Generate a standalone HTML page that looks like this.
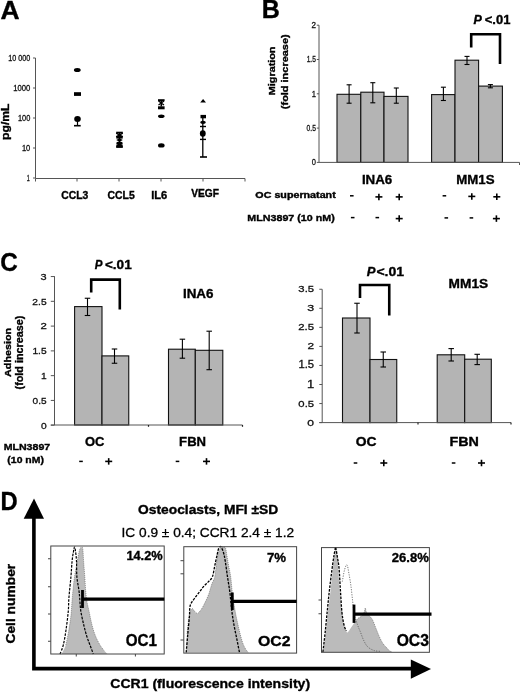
<!DOCTYPE html>
<html><head><meta charset="utf-8"><style>
html,body{margin:0;padding:0;background:#fff;}
svg{display:block;will-change:transform;}
text{font-family:"Liberation Sans",sans-serif;}
</style></head><body>
<svg width="520" height="692" viewBox="0 0 520 692">
<rect width="520" height="692" fill="#fff"/>
<text x="0.61" y="19.00" font-size="25.87" font-weight="bold" font-style="normal" textLength="19.08" lengthAdjust="spacingAndGlyphs" fill="#000" stroke="#000" stroke-width="0.35">A</text>
<line x1="35.5" y1="58" x2="35.5" y2="178.5" stroke="#555" stroke-width="1"/>
<line x1="33" y1="58" x2="35.5" y2="58" stroke="#555" stroke-width="1"/>
<line x1="33" y1="88" x2="35.5" y2="88" stroke="#555" stroke-width="1"/>
<line x1="33" y1="118" x2="35.5" y2="118" stroke="#555" stroke-width="1"/>
<line x1="33" y1="148" x2="35.5" y2="148" stroke="#555" stroke-width="1"/>
<line x1="33" y1="178" x2="35.5" y2="178" stroke="#555" stroke-width="1"/>
<line x1="35.5" y1="178.5" x2="245" y2="178.5" stroke="#555" stroke-width="1"/>
<line x1="35.5" y1="178.5" x2="35.5" y2="181.5" stroke="#555" stroke-width="1"/>
<line x1="77" y1="178.5" x2="77" y2="181.5" stroke="#555" stroke-width="1"/>
<line x1="119" y1="178.5" x2="119" y2="181.5" stroke="#555" stroke-width="1"/>
<line x1="161" y1="178.5" x2="161" y2="181.5" stroke="#555" stroke-width="1"/>
<line x1="203" y1="178.5" x2="203" y2="181.5" stroke="#555" stroke-width="1"/>
<line x1="245" y1="178.5" x2="245" y2="181.5" stroke="#555" stroke-width="1"/>
<text x="8.25" y="61.00" font-size="8.60" font-weight="normal" font-style="normal" textLength="22.03" lengthAdjust="spacingAndGlyphs" fill="#111" stroke="#111" stroke-width="0.3">10 000</text>
<text x="13.22" y="91.00" font-size="8.60" font-weight="normal" font-style="normal" textLength="17.08" lengthAdjust="spacingAndGlyphs" fill="#111" stroke="#111" stroke-width="0.3">1000</text>
<text x="17.94" y="121.00" font-size="8.60" font-weight="normal" font-style="normal" textLength="12.35" lengthAdjust="spacingAndGlyphs" fill="#111" stroke="#111" stroke-width="0.3">100</text>
<text x="21.93" y="151.00" font-size="8.60" font-weight="normal" font-style="normal" textLength="8.36" lengthAdjust="spacingAndGlyphs" fill="#111" stroke="#111" stroke-width="0.3">10</text>
<text x="26.70" y="181.00" font-size="8.72" font-weight="normal" font-style="normal" textLength="2.96" lengthAdjust="spacingAndGlyphs" fill="#111" stroke="#111" stroke-width="0.3">1</text>
<text transform="translate(9.20,139.10) rotate(-90)" x="-0.80" y="0" font-size="10.91" font-weight="bold" font-style="normal" textLength="36.28" lengthAdjust="spacingAndGlyphs" fill="#000" stroke="#000" stroke-width="0.35">pg/mL</text>
<text x="61.39" y="198.90" font-size="10.32" font-weight="bold" font-style="normal" textLength="26.98" lengthAdjust="spacingAndGlyphs" fill="#000" stroke="#000" stroke-width="0.35">CCL3</text>
<text x="107.58" y="198.90" font-size="10.32" font-weight="bold" font-style="normal" textLength="27.20" lengthAdjust="spacingAndGlyphs" fill="#000" stroke="#000" stroke-width="0.35">CCL5</text>
<text x="151.17" y="198.90" font-size="10.32" font-weight="bold" font-style="normal" textLength="16.04" lengthAdjust="spacingAndGlyphs" fill="#000" stroke="#000" stroke-width="0.35">IL6</text>
<text x="191.14" y="196.80" font-size="10.60" font-weight="bold" font-style="normal" textLength="27.73" lengthAdjust="spacingAndGlyphs" fill="#000" stroke="#000" stroke-width="0.35">VEGF</text>
<ellipse cx="77.3" cy="70" rx="3.4" ry="2.0" fill="#000"/>
<rect x="74.00" y="92.20" width="7.00" height="3.70" fill="#000" stroke="none" stroke-width="1"/>
<ellipse cx="77.5" cy="118.9" rx="3.3" ry="3.0" fill="#000"/>
<line x1="77.5" y1="121" x2="77.5" y2="125.7" stroke="#000" stroke-width="1.2"/>
<line x1="74" y1="125.7" x2="80.7" y2="125.7" stroke="#000" stroke-width="1.6"/>
<line x1="119.5" y1="132.5" x2="119.5" y2="147" stroke="#000" stroke-width="1.4"/>
<line x1="116.2" y1="132.6" x2="122.8" y2="132.6" stroke="#000" stroke-width="1.8"/>
<line x1="116.2" y1="147" x2="122.8" y2="147" stroke="#000" stroke-width="1.8"/>
<path d="M116.2,133.2 L122.8,136.8 M122.8,133.2 L116.2,136.8" fill="none" stroke="#000" stroke-width="1.4"/>
<rect x="116.30" y="135.80" width="6.40" height="2.80" fill="#000" stroke="none" stroke-width="1"/>
<path d="M116.2,140 L119.5,138.2 L122.8,140 L119.5,141.8 Z" fill="#000" stroke="none" stroke-width="1"/>
<ellipse cx="119.5" cy="143.2" rx="3.2" ry="1.8" fill="#000"/>
<rect x="116.30" y="144.60" width="6.40" height="2.60" fill="#000" stroke="none" stroke-width="1"/>
<line x1="158" y1="100.2" x2="164.6" y2="100.2" stroke="#000" stroke-width="2"/>
<line x1="161.3" y1="100" x2="161.3" y2="106.5" stroke="#000" stroke-width="1.6"/>
<path d="M158.5,101 L164,105 M164,101 L158.5,105" fill="none" stroke="#000" stroke-width="1.2"/>
<rect x="158.00" y="106.30" width="6.60" height="3.00" fill="#000" stroke="none" stroke-width="1"/>
<ellipse cx="161.3" cy="116.2" rx="3.3" ry="1.8" fill="#000"/>
<ellipse cx="161.3" cy="145.4" rx="3.3" ry="2.2" fill="#000"/>
<path d="M200.2,102.6 L203.1,98.9 L206,102.6 Z" fill="#000" stroke="none" stroke-width="1"/>
<rect x="200.50" y="114.90" width="5.50" height="3.40" fill="#000" stroke="none" stroke-width="1"/>
<ellipse cx="203" cy="122.3" rx="2.8" ry="1.6" fill="#000"/>
<line x1="200" y1="126.5" x2="206" y2="126.5" stroke="#000" stroke-width="1.4"/>
<line x1="202.8" y1="118" x2="202.8" y2="157" stroke="#000" stroke-width="1.3"/>
<ellipse cx="202.8" cy="133.5" rx="2.9" ry="3.2" fill="#000"/>
<line x1="200" y1="139.4" x2="206" y2="139.4" stroke="#000" stroke-width="1.4"/>
<line x1="200" y1="157" x2="207" y2="157" stroke="#000" stroke-width="1.6"/>
<text x="261.84" y="17.60" font-size="25.87" font-weight="bold" font-style="normal" textLength="18.11" lengthAdjust="spacingAndGlyphs" fill="#000" stroke="#000" stroke-width="0.35">B</text>
<line x1="319" y1="25.2" x2="319" y2="162.4" stroke="#555" stroke-width="1"/>
<line x1="316.8" y1="25.200000000000017" x2="319" y2="25.200000000000017" stroke="#555" stroke-width="1"/>
<text x="311.49" y="28.10" font-size="9.17" font-weight="normal" font-style="normal" textLength="4.51" lengthAdjust="spacingAndGlyphs" fill="#111" stroke="#111" stroke-width="0.3">2</text>
<line x1="316.8" y1="59.500000000000014" x2="319" y2="59.500000000000014" stroke="#555" stroke-width="1"/>
<text x="306.70" y="62.40" font-size="9.30" font-weight="normal" font-style="normal" textLength="9.18" lengthAdjust="spacingAndGlyphs" fill="#111" stroke="#111" stroke-width="0.3">1.5</text>
<line x1="316.8" y1="93.80000000000001" x2="319" y2="93.80000000000001" stroke="#555" stroke-width="1"/>
<text x="311.72" y="96.70" font-size="9.30" font-weight="normal" font-style="normal" textLength="4.25" lengthAdjust="spacingAndGlyphs" fill="#111" stroke="#111" stroke-width="0.3">1</text>
<line x1="316.8" y1="128.10000000000002" x2="319" y2="128.10000000000002" stroke="#555" stroke-width="1"/>
<text x="306.54" y="131.00" font-size="9.17" font-weight="normal" font-style="normal" textLength="9.34" lengthAdjust="spacingAndGlyphs" fill="#111" stroke="#111" stroke-width="0.3">0.5</text>
<line x1="316.8" y1="162.4" x2="319" y2="162.4" stroke="#555" stroke-width="1"/>
<text x="311.71" y="165.30" font-size="9.17" font-weight="normal" font-style="normal" textLength="4.17" lengthAdjust="spacingAndGlyphs" fill="#111" stroke="#111" stroke-width="0.3">0</text>
<rect x="337.00" y="94.30" width="23.80" height="68.10" fill="#b4b4b4" stroke="#111" stroke-width="1.1"/>
<rect x="360.80" y="92.20" width="23.20" height="70.20" fill="#b4b4b4" stroke="#111" stroke-width="1.1"/>
<rect x="384.00" y="96.40" width="24.00" height="66.00" fill="#b4b4b4" stroke="#111" stroke-width="1.1"/>
<rect x="431.60" y="94.60" width="23.40" height="67.80" fill="#b4b4b4" stroke="#111" stroke-width="1.1"/>
<rect x="455.00" y="60.20" width="23.60" height="102.20" fill="#b4b4b4" stroke="#111" stroke-width="1.1"/>
<rect x="478.60" y="86.10" width="23.80" height="76.30" fill="#b4b4b4" stroke="#111" stroke-width="1.1"/>
<line x1="319" y1="162.4" x2="519.5" y2="162.4" stroke="#555" stroke-width="1"/>
<line x1="519.5" y1="162.4" x2="519.5" y2="165" stroke="#555" stroke-width="1"/>
<line x1="349.1" y1="84.8" x2="349.1" y2="103.2" stroke="#000" stroke-width="1.1"/>
<line x1="346.6" y1="84.8" x2="351.6" y2="84.8" stroke="#000" stroke-width="1.1"/>
<line x1="346.6" y1="103.2" x2="351.6" y2="103.2" stroke="#000" stroke-width="1.1"/>
<line x1="372.8" y1="82.7" x2="372.8" y2="102.8" stroke="#000" stroke-width="1.1"/>
<line x1="370.3" y1="82.7" x2="375.3" y2="82.7" stroke="#000" stroke-width="1.1"/>
<line x1="370.3" y1="102.8" x2="375.3" y2="102.8" stroke="#000" stroke-width="1.1"/>
<line x1="396.3" y1="88" x2="396.3" y2="103.2" stroke="#000" stroke-width="1.1"/>
<line x1="393.8" y1="88" x2="398.8" y2="88" stroke="#000" stroke-width="1.1"/>
<line x1="393.8" y1="103.2" x2="398.8" y2="103.2" stroke="#000" stroke-width="1.1"/>
<line x1="443.4" y1="87.2" x2="443.4" y2="100.5" stroke="#000" stroke-width="1.1"/>
<line x1="440.9" y1="87.2" x2="445.9" y2="87.2" stroke="#000" stroke-width="1.1"/>
<line x1="440.9" y1="100.5" x2="445.9" y2="100.5" stroke="#000" stroke-width="1.1"/>
<line x1="467" y1="56.4" x2="467" y2="64.5" stroke="#000" stroke-width="1.1"/>
<line x1="464.5" y1="56.4" x2="469.5" y2="56.4" stroke="#000" stroke-width="1.1"/>
<line x1="464.5" y1="64.5" x2="469.5" y2="64.5" stroke="#000" stroke-width="1.1"/>
<line x1="490.4" y1="84.6" x2="490.4" y2="87.8" stroke="#000" stroke-width="1.1"/>
<line x1="487.9" y1="84.6" x2="492.9" y2="84.6" stroke="#000" stroke-width="1.1"/>
<line x1="487.9" y1="87.8" x2="492.9" y2="87.8" stroke="#000" stroke-width="1.1"/>
<path d="M471.2,47.5 L471.2,34.3 L500,34.3 L500,64" fill="none" stroke="#000" stroke-width="2.6"/>
<text x="473.48" y="24.30" font-size="12.50" font-weight="bold" font-style="italic" textLength="8.31" lengthAdjust="spacingAndGlyphs" fill="#000" stroke="#000" stroke-width="0.35">P</text>
<text x="484.76" y="24.30" font-size="12.32" font-weight="bold" font-style="normal" textLength="25.61" lengthAdjust="spacingAndGlyphs" fill="#000" stroke="#000" stroke-width="0.35">&lt;.01</text>
<text transform="translate(274.70,94.50) rotate(-90)" x="-0.71" y="0" font-size="8.98" font-weight="bold" font-style="normal" textLength="48.68" lengthAdjust="spacingAndGlyphs" fill="#000" stroke="#000" stroke-width="0.35">Migration</text>
<text transform="translate(287.50,108.60) rotate(-90)" x="-0.55" y="0" font-size="9.53" font-weight="bold" font-style="normal" textLength="74.78" lengthAdjust="spacingAndGlyphs" fill="#000" stroke="#000" stroke-width="0.35">(fold increase)</text>
<text x="361.92" y="184.00" font-size="13.18" font-weight="bold" font-style="normal" textLength="30.36" lengthAdjust="spacingAndGlyphs" fill="#000" stroke="#000" stroke-width="0.35">INA6</text>
<text x="456.23" y="183.90" font-size="13.32" font-weight="bold" font-style="normal" textLength="38.29" lengthAdjust="spacingAndGlyphs" fill="#000" stroke="#000" stroke-width="0.35">MM1S</text>
<text x="255.37" y="198.00" font-size="8.17" font-weight="bold" font-style="normal" textLength="80.35" lengthAdjust="spacingAndGlyphs" fill="#000" stroke="#000" stroke-width="0.35">OC supernatant</text>
<text x="247.39" y="220.60" font-size="9.81" font-weight="bold" font-style="normal" textLength="87.32" lengthAdjust="spacingAndGlyphs" fill="#000" stroke="#000" stroke-width="0.35">MLN3897 (10 nM)</text>
<line x1="350.0" y1="195.8" x2="353.6" y2="195.8" stroke="#000" stroke-width="1.5"/>
<line x1="375.4" y1="196.9" x2="382.4" y2="196.9" stroke="#000" stroke-width="1.6"/>
<line x1="378.9" y1="193.65" x2="378.9" y2="200.15" stroke="#000" stroke-width="1.6"/>
<line x1="395.7" y1="196.9" x2="402.7" y2="196.9" stroke="#000" stroke-width="1.6"/>
<line x1="399.2" y1="193.65" x2="399.2" y2="200.15" stroke="#000" stroke-width="1.6"/>
<line x1="442.59999999999997" y1="195.8" x2="446.2" y2="195.8" stroke="#000" stroke-width="1.5"/>
<line x1="468.3" y1="196.4" x2="475.3" y2="196.4" stroke="#000" stroke-width="1.6"/>
<line x1="471.8" y1="193.15" x2="471.8" y2="199.65" stroke="#000" stroke-width="1.6"/>
<line x1="493.3" y1="196.8" x2="500.3" y2="196.8" stroke="#000" stroke-width="1.6"/>
<line x1="496.8" y1="193.55" x2="496.8" y2="200.05" stroke="#000" stroke-width="1.6"/>
<line x1="350.9" y1="217.6" x2="354.5" y2="217.6" stroke="#000" stroke-width="1.5"/>
<line x1="375.5" y1="217.6" x2="379.1" y2="217.6" stroke="#000" stroke-width="1.5"/>
<line x1="395.7" y1="218.6" x2="402.7" y2="218.6" stroke="#000" stroke-width="1.6"/>
<line x1="399.2" y1="215.35" x2="399.2" y2="221.85" stroke="#000" stroke-width="1.6"/>
<line x1="444.5" y1="217.9" x2="448.1" y2="217.9" stroke="#000" stroke-width="1.5"/>
<line x1="469.59999999999997" y1="217.9" x2="473.2" y2="217.9" stroke="#000" stroke-width="1.5"/>
<line x1="492.9" y1="218.6" x2="499.9" y2="218.6" stroke="#000" stroke-width="1.6"/>
<line x1="496.4" y1="215.35" x2="496.4" y2="221.85" stroke="#000" stroke-width="1.6"/>
<text x="0.18" y="270.50" font-size="26.07" font-weight="bold" font-style="normal" textLength="17.50" lengthAdjust="spacingAndGlyphs" fill="#000" stroke="#000" stroke-width="0.35">C</text>
<line x1="54.5" y1="276.2" x2="54.5" y2="425" stroke="#555" stroke-width="1"/>
<line x1="50.8" y1="276.55" x2="54.5" y2="276.55" stroke="#555" stroke-width="1"/>
<text x="40.58" y="279.85" font-size="9.46" font-weight="normal" font-style="normal" textLength="6.10" lengthAdjust="spacingAndGlyphs" fill="#111" stroke="#111" stroke-width="0.3">3</text>
<line x1="50.8" y1="301.325" x2="54.5" y2="301.325" stroke="#555" stroke-width="1"/>
<text x="32.39" y="304.62" font-size="9.46" font-weight="normal" font-style="normal" textLength="14.24" lengthAdjust="spacingAndGlyphs" fill="#111" stroke="#111" stroke-width="0.3">2.5</text>
<line x1="50.8" y1="326.1" x2="54.5" y2="326.1" stroke="#555" stroke-width="1"/>
<text x="40.43" y="329.40" font-size="9.46" font-weight="normal" font-style="normal" textLength="6.34" lengthAdjust="spacingAndGlyphs" fill="#111" stroke="#111" stroke-width="0.3">2</text>
<line x1="50.8" y1="350.875" x2="54.5" y2="350.875" stroke="#555" stroke-width="1"/>
<text x="32.42" y="354.18" font-size="9.59" font-weight="normal" font-style="normal" textLength="14.21" lengthAdjust="spacingAndGlyphs" fill="#111" stroke="#111" stroke-width="0.3">1.5</text>
<line x1="50.8" y1="375.65" x2="54.5" y2="375.65" stroke="#555" stroke-width="1"/>
<text x="41.03" y="378.95" font-size="9.59" font-weight="normal" font-style="normal" textLength="5.66" lengthAdjust="spacingAndGlyphs" fill="#111" stroke="#111" stroke-width="0.3">1</text>
<line x1="50.8" y1="400.425" x2="54.5" y2="400.425" stroke="#555" stroke-width="1"/>
<text x="32.62" y="403.73" font-size="9.46" font-weight="normal" font-style="normal" textLength="14.01" lengthAdjust="spacingAndGlyphs" fill="#111" stroke="#111" stroke-width="0.3">0.5</text>
<line x1="50.8" y1="425.2" x2="54.5" y2="425.2" stroke="#555" stroke-width="1"/>
<text x="40.91" y="428.50" font-size="9.46" font-weight="normal" font-style="normal" textLength="5.68" lengthAdjust="spacingAndGlyphs" fill="#111" stroke="#111" stroke-width="0.3">0</text>
<rect x="74.60" y="306.60" width="27.40" height="118.40" fill="#b4b4b4" stroke="#111" stroke-width="1.1"/>
<rect x="102.00" y="355.90" width="26.75" height="69.10" fill="#b4b4b4" stroke="#111" stroke-width="1.1"/>
<rect x="168.50" y="349.20" width="26.80" height="75.80" fill="#b4b4b4" stroke="#111" stroke-width="1.1"/>
<rect x="195.30" y="350.30" width="27.50" height="74.70" fill="#b4b4b4" stroke="#111" stroke-width="1.1"/>
<line x1="50.8" y1="425" x2="242.5" y2="425" stroke="#555" stroke-width="1"/>
<line x1="148.5" y1="425" x2="148.5" y2="426.8" stroke="#222" stroke-width="1.2"/>
<line x1="242.5" y1="425" x2="242.5" y2="426.8" stroke="#222" stroke-width="1.2"/>
<line x1="87.5" y1="298.25" x2="87.5" y2="315.5" stroke="#000" stroke-width="1.1"/>
<line x1="84.75" y1="298.25" x2="90.25" y2="298.25" stroke="#000" stroke-width="1.1"/>
<line x1="84.75" y1="315.5" x2="90.25" y2="315.5" stroke="#000" stroke-width="1.1"/>
<line x1="114.5" y1="349" x2="114.5" y2="363.25" stroke="#000" stroke-width="1.1"/>
<line x1="111.75" y1="349" x2="117.25" y2="349" stroke="#000" stroke-width="1.1"/>
<line x1="111.75" y1="363.25" x2="117.25" y2="363.25" stroke="#000" stroke-width="1.1"/>
<line x1="182.4" y1="339.2" x2="182.4" y2="358.2" stroke="#000" stroke-width="1.1"/>
<line x1="179.65" y1="339.2" x2="185.15" y2="339.2" stroke="#000" stroke-width="1.1"/>
<line x1="179.65" y1="358.2" x2="185.15" y2="358.2" stroke="#000" stroke-width="1.1"/>
<line x1="209.2" y1="331.2" x2="209.2" y2="369.7" stroke="#000" stroke-width="1.1"/>
<line x1="206.45" y1="331.2" x2="211.95" y2="331.2" stroke="#000" stroke-width="1.1"/>
<line x1="206.45" y1="369.7" x2="211.95" y2="369.7" stroke="#000" stroke-width="1.1"/>
<path d="M91.2,292.5 L91.2,279.6 L119.8,279.6 L119.8,309.5" fill="none" stroke="#000" stroke-width="2.6"/>
<text x="94.79" y="268.90" font-size="12.50" font-weight="bold" font-style="italic" textLength="7.70" lengthAdjust="spacingAndGlyphs" fill="#000" stroke="#000" stroke-width="0.35">P</text>
<text x="104.93" y="268.90" font-size="12.32" font-weight="bold" font-style="normal" textLength="26.75" lengthAdjust="spacingAndGlyphs" fill="#000" stroke="#000" stroke-width="0.35">&lt;.01</text>
<text transform="translate(11.10,376.70) rotate(-90)" x="-0.28" y="0" font-size="9.81" font-weight="bold" font-style="normal" textLength="49.15" lengthAdjust="spacingAndGlyphs" fill="#000" stroke="#000" stroke-width="0.35">Adhesion</text>
<text transform="translate(22.80,388.90) rotate(-90)" x="-0.54" y="0" font-size="10.36" font-weight="bold" font-style="normal" textLength="73.87" lengthAdjust="spacingAndGlyphs" fill="#000" stroke="#000" stroke-width="0.35">(fold increase)</text>
<text x="182.91" y="297.70" font-size="13.18" font-weight="bold" font-style="normal" textLength="30.57" lengthAdjust="spacingAndGlyphs" fill="#000" stroke="#000" stroke-width="0.35">INA6</text>
<text x="84.98" y="446.20" font-size="12.46" font-weight="bold" font-style="normal" textLength="19.48" lengthAdjust="spacingAndGlyphs" fill="#000" stroke="#000" stroke-width="0.35">OC</text>
<text x="179.13" y="446.20" font-size="12.65" font-weight="bold" font-style="normal" textLength="26.95" lengthAdjust="spacingAndGlyphs" fill="#000" stroke="#000" stroke-width="0.35">FBN</text>
<text x="3.70" y="450.20" font-size="9.60" font-weight="bold" font-style="normal" textLength="46.47" lengthAdjust="spacingAndGlyphs" fill="#000" stroke="#000" stroke-width="0.35">MLN3897</text>
<text x="7.38" y="462.50" font-size="9.67" font-weight="bold" font-style="normal" textLength="36.52" lengthAdjust="spacingAndGlyphs" fill="#000" stroke="#000" stroke-width="0.35">(10 nM)</text>
<line x1="79.2" y1="461.4" x2="82.8" y2="461.4" stroke="#000" stroke-width="1.5"/>
<line x1="105.2" y1="461.4" x2="112.2" y2="461.4" stroke="#000" stroke-width="1.6"/>
<line x1="108.7" y1="458.15" x2="108.7" y2="464.65" stroke="#000" stroke-width="1.6"/>
<line x1="175.7" y1="461.4" x2="179.3" y2="461.4" stroke="#000" stroke-width="1.5"/>
<line x1="203.0" y1="461.4" x2="210.0" y2="461.4" stroke="#000" stroke-width="1.6"/>
<line x1="206.5" y1="458.15" x2="206.5" y2="464.65" stroke="#000" stroke-width="1.6"/>
<line x1="322.2" y1="289.3" x2="322.2" y2="422.6" stroke="#555" stroke-width="1"/>
<line x1="319.3" y1="289.25" x2="322.2" y2="289.25" stroke="#555" stroke-width="1"/>
<text x="298.37" y="292.25" font-size="9.89" font-weight="normal" font-style="normal" textLength="15.71" lengthAdjust="spacingAndGlyphs" fill="#111" stroke="#111" stroke-width="0.3">3.5</text>
<line x1="319.3" y1="308.3" x2="322.2" y2="308.3" stroke="#555" stroke-width="1"/>
<text x="307.23" y="311.30" font-size="9.89" font-weight="normal" font-style="normal" textLength="6.92" lengthAdjust="spacingAndGlyphs" fill="#111" stroke="#111" stroke-width="0.3">3</text>
<line x1="319.3" y1="327.35" x2="322.2" y2="327.35" stroke="#555" stroke-width="1"/>
<text x="298.23" y="330.35" font-size="9.89" font-weight="normal" font-style="normal" textLength="15.85" lengthAdjust="spacingAndGlyphs" fill="#111" stroke="#111" stroke-width="0.3">2.5</text>
<line x1="319.3" y1="346.40000000000003" x2="322.2" y2="346.40000000000003" stroke="#555" stroke-width="1"/>
<text x="307.61" y="349.40" font-size="9.89" font-weight="normal" font-style="normal" textLength="6.59" lengthAdjust="spacingAndGlyphs" fill="#111" stroke="#111" stroke-width="0.3">2</text>
<line x1="319.3" y1="365.45000000000005" x2="322.2" y2="365.45000000000005" stroke="#555" stroke-width="1"/>
<text x="298.45" y="368.45" font-size="10.03" font-weight="normal" font-style="normal" textLength="15.63" lengthAdjust="spacingAndGlyphs" fill="#111" stroke="#111" stroke-width="0.3">1.5</text>
<line x1="319.3" y1="384.5" x2="322.2" y2="384.5" stroke="#555" stroke-width="1"/>
<text x="307.01" y="387.50" font-size="10.03" font-weight="normal" font-style="normal" textLength="7.21" lengthAdjust="spacingAndGlyphs" fill="#111" stroke="#111" stroke-width="0.3">1</text>
<line x1="319.3" y1="403.55" x2="322.2" y2="403.55" stroke="#555" stroke-width="1"/>
<text x="298.37" y="406.55" font-size="9.89" font-weight="normal" font-style="normal" textLength="15.71" lengthAdjust="spacingAndGlyphs" fill="#111" stroke="#111" stroke-width="0.3">0.5</text>
<line x1="319.3" y1="422.6" x2="322.2" y2="422.6" stroke="#555" stroke-width="1"/>
<text x="307.34" y="425.60" font-size="9.89" font-weight="normal" font-style="normal" textLength="6.72" lengthAdjust="spacingAndGlyphs" fill="#111" stroke="#111" stroke-width="0.3">0</text>
<rect x="342.50" y="318.00" width="27.50" height="104.60" fill="#b4b4b4" stroke="#111" stroke-width="1.1"/>
<rect x="370.00" y="359.50" width="26.75" height="63.10" fill="#b4b4b4" stroke="#111" stroke-width="1.1"/>
<rect x="437.20" y="354.80" width="27.50" height="67.80" fill="#b4b4b4" stroke="#111" stroke-width="1.1"/>
<rect x="464.70" y="359.20" width="26.60" height="63.40" fill="#b4b4b4" stroke="#111" stroke-width="1.1"/>
<line x1="319.3" y1="422.6" x2="511" y2="422.6" stroke="#555" stroke-width="1"/>
<line x1="418" y1="422.6" x2="418" y2="424.4" stroke="#222" stroke-width="1.2"/>
<line x1="511" y1="422.6" x2="511" y2="424.4" stroke="#222" stroke-width="1.2"/>
<line x1="357" y1="303.25" x2="357" y2="333" stroke="#000" stroke-width="1.1"/>
<line x1="354.25" y1="303.25" x2="359.75" y2="303.25" stroke="#000" stroke-width="1.1"/>
<line x1="354.25" y1="333" x2="359.75" y2="333" stroke="#000" stroke-width="1.1"/>
<line x1="383.25" y1="352" x2="383.25" y2="367" stroke="#000" stroke-width="1.1"/>
<line x1="380.5" y1="352" x2="386.0" y2="352" stroke="#000" stroke-width="1.1"/>
<line x1="380.5" y1="367" x2="386.0" y2="367" stroke="#000" stroke-width="1.1"/>
<line x1="451.2" y1="348.6" x2="451.2" y2="361" stroke="#000" stroke-width="1.1"/>
<line x1="448.45" y1="348.6" x2="453.95" y2="348.6" stroke="#000" stroke-width="1.1"/>
<line x1="448.45" y1="361" x2="453.95" y2="361" stroke="#000" stroke-width="1.1"/>
<line x1="477.2" y1="354.3" x2="477.2" y2="364.6" stroke="#000" stroke-width="1.1"/>
<line x1="474.45" y1="354.3" x2="479.95" y2="354.3" stroke="#000" stroke-width="1.1"/>
<line x1="474.45" y1="364.6" x2="479.95" y2="364.6" stroke="#000" stroke-width="1.1"/>
<path d="M360,298 L360,285 L389.25,285 L389.25,315.5" fill="none" stroke="#000" stroke-width="2.6"/>
<text x="366.76" y="275.50" font-size="13.44" font-weight="bold" font-style="italic" textLength="8.72" lengthAdjust="spacingAndGlyphs" fill="#000" stroke="#000" stroke-width="0.35">P</text>
<text x="376.41" y="275.50" font-size="13.25" font-weight="bold" font-style="normal" textLength="27.74" lengthAdjust="spacingAndGlyphs" fill="#000" stroke="#000" stroke-width="0.35">&lt;.01</text>
<text x="448.60" y="288.40" font-size="13.04" font-weight="bold" font-style="normal" textLength="39.54" lengthAdjust="spacingAndGlyphs" fill="#000" stroke="#000" stroke-width="0.35">MM1S</text>
<text x="355.74" y="446.30" font-size="12.61" font-weight="bold" font-style="normal" textLength="20.84" lengthAdjust="spacingAndGlyphs" fill="#000" stroke="#000" stroke-width="0.35">OC</text>
<text x="449.56" y="446.30" font-size="12.79" font-weight="bold" font-style="normal" textLength="29.41" lengthAdjust="spacingAndGlyphs" fill="#000" stroke="#000" stroke-width="0.35">FBN</text>
<line x1="353.7" y1="463" x2="357.3" y2="463" stroke="#000" stroke-width="1.5"/>
<line x1="380.3" y1="463" x2="387.3" y2="463" stroke="#000" stroke-width="1.6"/>
<line x1="383.8" y1="459.75" x2="383.8" y2="466.25" stroke="#000" stroke-width="1.6"/>
<line x1="451.8" y1="463" x2="455.40000000000003" y2="463" stroke="#000" stroke-width="1.5"/>
<line x1="478.0" y1="463" x2="485.0" y2="463" stroke="#000" stroke-width="1.6"/>
<line x1="481.5" y1="459.75" x2="481.5" y2="466.25" stroke="#000" stroke-width="1.6"/>
<text x="0.43" y="510.20" font-size="26.02" font-weight="bold" font-style="normal" textLength="17.17" lengthAdjust="spacingAndGlyphs" fill="#000" stroke="#000" stroke-width="0.35">D</text>
<path d="M33.9,518 L33.9,668.6 L412,668.6" fill="none" stroke="#000" stroke-width="3.6"/>
<path d="M23.7,518.7 L34,498.6 L44,518.7 Z" fill="#000" stroke="none" stroke-width="1"/>
<path d="M410.8,659.4 L431,669 L410.8,678.7 Z" fill="#000" stroke="none" stroke-width="1"/>
<text transform="translate(14.50,643.00) rotate(-90)" x="-0.55" y="0" font-size="12.71" font-weight="bold" font-style="normal" textLength="79.76" lengthAdjust="spacingAndGlyphs" fill="#000" stroke="#000" stroke-width="0.35">Cell number</text>
<text x="110.24" y="688.20" font-size="13.40" font-weight="bold" font-style="normal" textLength="199.86" lengthAdjust="spacingAndGlyphs" fill="#000" stroke="#000" stroke-width="0.35">CCR1 (fluorescence intensity)</text>
<text x="138.05" y="514.00" font-size="12.71" font-weight="bold" font-style="normal" textLength="140.24" lengthAdjust="spacingAndGlyphs" fill="#000" stroke="#000" stroke-width="0.35">Osteoclasts, MFI ±SD</text>
<text x="121.54" y="537.30" font-size="13.18" font-weight="normal" font-style="normal" textLength="172.54" lengthAdjust="spacingAndGlyphs" fill="#000" stroke="#000" stroke-width="0.3">IC 0.9 ± 0.4; CCR1 2.4 ± 1.2</text>
<path d="M61.60,654.00 C62.30,652.50 64.65,648.67 65.80,645.00 C66.95,641.33 67.63,637.00 68.50,632.00 C69.37,627.00 70.40,620.33 71.00,615.00 C71.60,609.67 71.73,604.50 72.10,600.00 C72.47,595.50 72.80,591.83 73.20,588.00 C73.60,584.17 73.82,581.50 74.50,577.00 C75.18,572.50 76.43,565.58 77.30,561.00 C78.17,556.42 78.98,551.77 79.70,549.50 C80.42,547.23 81.08,547.48 81.60,547.40 C82.12,547.32 82.47,546.73 82.80,549.00 C83.13,551.27 83.27,556.33 83.60,561.00 C83.93,565.67 84.47,572.17 84.80,577.00 C85.13,581.83 85.27,586.00 85.60,590.00 C85.93,594.00 86.23,597.50 86.80,601.00 C87.37,604.50 88.13,607.00 89.00,611.00 C89.87,615.00 90.92,620.83 92.00,625.00 C93.08,629.17 94.17,632.67 95.50,636.00 C96.83,639.33 98.58,642.58 100.00,645.00 C101.42,647.42 102.75,649.00 104.00,650.50 C105.25,652.00 106.92,653.42 107.50,654.00 Z" fill="#bbbbbb" stroke="none" stroke-width="1"/>
<path d="M65.80,645.00 C66.25,642.83 67.63,637.00 68.50,632.00 C69.37,627.00 70.40,620.33 71.00,615.00 C71.60,609.67 71.73,604.50 72.10,600.00 C72.47,595.50 72.80,591.83 73.20,588.00 C73.60,584.17 73.82,581.50 74.50,577.00 C75.18,572.50 76.43,565.58 77.30,561.00 C78.17,556.42 78.98,551.77 79.70,549.50 C80.42,547.23 81.08,547.48 81.60,547.40 C82.12,547.32 82.47,546.73 82.80,549.00 C83.13,551.27 83.27,556.33 83.60,561.00 C83.93,565.67 84.47,572.17 84.80,577.00 C85.13,581.83 85.27,586.00 85.60,590.00 C85.93,594.00 86.23,597.50 86.80,601.00 C87.37,604.50 88.13,607.00 89.00,611.00 C89.87,615.00 90.92,620.83 92.00,625.00 C93.08,629.17 94.17,632.67 95.50,636.00 C96.83,639.33 98.58,642.58 100.00,645.00 C101.42,647.42 103.33,649.58 104.00,650.50" fill="none" stroke="#555" stroke-width="0.6" stroke-dasharray="1,1"/>
<path d="M60.00,654.00 C60.55,652.50 62.30,649.00 63.30,645.00 C64.30,641.00 65.17,635.67 66.00,630.00 C66.83,624.33 67.82,616.33 68.30,611.00 C68.78,605.67 68.47,603.67 68.90,598.00 C69.33,592.33 70.37,583.17 70.90,577.00 C71.43,570.83 71.68,565.17 72.10,561.00 C72.52,556.83 73.00,554.33 73.40,552.00 C73.80,549.67 74.15,547.17 74.50,547.00 C74.85,546.83 75.17,548.67 75.50,551.00 C75.83,553.33 76.27,556.67 76.50,561.00 C76.73,565.33 76.50,572.17 76.90,577.00 C77.30,581.83 78.43,586.50 78.90,590.00 C79.37,593.50 79.38,594.50 79.70,598.00 C80.02,601.50 80.08,606.33 80.80,611.00 C81.52,615.67 82.97,621.67 84.00,626.00 C85.03,630.33 86.00,633.83 87.00,637.00 C88.00,640.17 88.95,642.17 90.00,645.00 C91.05,647.83 92.75,652.50 93.30,654.00" fill="none" stroke="#000" stroke-width="1.2" stroke-dasharray="2.6,1.2"/>
<path d="M185.90,652.50 C186.08,649.42 186.55,639.45 187.00,634.00 C187.45,628.55 188.07,623.50 188.60,619.80 C189.13,616.10 189.55,613.67 190.20,611.80 C190.85,609.93 191.82,608.73 192.50,608.60 C193.18,608.47 193.50,610.20 194.30,611.00 C195.10,611.80 196.33,613.40 197.30,613.40 C198.27,613.40 199.15,612.15 200.10,611.00 C201.05,609.85 202.02,608.25 203.00,606.50 C203.98,604.75 205.03,602.58 206.00,600.50 C206.97,598.42 208.03,596.08 208.80,594.00 C209.57,591.92 210.03,589.83 210.60,588.00 C211.17,586.17 211.50,584.87 212.20,583.00 C212.90,581.13 214.10,579.95 214.80,576.80 C215.50,573.65 215.87,567.82 216.40,564.10 C216.93,560.38 217.33,557.15 218.00,554.50 C218.67,551.85 219.57,549.45 220.40,548.20 C221.23,546.95 222.15,547.03 223.00,547.00 C223.85,546.97 224.88,546.75 225.50,548.00 C226.12,549.25 226.20,551.67 226.70,554.50 C227.20,557.33 227.83,561.28 228.50,565.00 C229.17,568.72 230.07,572.18 230.70,576.80 C231.33,581.42 231.63,587.40 232.30,592.70 C232.97,598.00 233.77,603.30 234.70,608.60 C235.63,613.90 236.70,619.20 237.90,624.50 C239.10,629.80 240.72,636.48 241.90,640.40 C243.08,644.32 243.95,645.98 245.00,648.00 C246.05,650.02 247.67,651.75 248.20,652.50 Z" fill="#bbbbbb" stroke="none" stroke-width="1"/>
<path d="M187.00,634.00 C187.27,631.63 188.07,623.50 188.60,619.80 C189.13,616.10 189.55,613.67 190.20,611.80 C190.85,609.93 191.82,608.73 192.50,608.60 C193.18,608.47 193.50,610.20 194.30,611.00 C195.10,611.80 196.33,613.40 197.30,613.40 C198.27,613.40 199.15,612.15 200.10,611.00 C201.05,609.85 202.02,608.25 203.00,606.50 C203.98,604.75 205.03,602.58 206.00,600.50 C206.97,598.42 208.03,596.08 208.80,594.00 C209.57,591.92 210.03,589.83 210.60,588.00 C211.17,586.17 211.50,584.87 212.20,583.00 C212.90,581.13 214.10,579.95 214.80,576.80 C215.50,573.65 215.87,567.82 216.40,564.10 C216.93,560.38 217.33,557.15 218.00,554.50 C218.67,551.85 219.57,549.45 220.40,548.20 C221.23,546.95 222.15,547.03 223.00,547.00 C223.85,546.97 224.88,546.75 225.50,548.00 C226.12,549.25 226.20,551.67 226.70,554.50 C227.20,557.33 227.83,561.28 228.50,565.00 C229.17,568.72 230.07,572.18 230.70,576.80 C231.33,581.42 231.63,587.40 232.30,592.70 C232.97,598.00 233.77,603.30 234.70,608.60 C235.63,613.90 236.70,619.20 237.90,624.50 C239.10,629.80 240.72,636.48 241.90,640.40 C243.08,644.32 243.95,645.98 245.00,648.00 C246.05,650.02 247.67,651.75 248.20,652.50" fill="none" stroke="#555" stroke-width="0.6" stroke-dasharray="1,1"/>
<path d="M186.20,652.50 C186.47,649.42 187.27,639.98 187.80,634.00 C188.33,628.02 189.00,621.35 189.40,616.60 C189.80,611.85 189.42,608.43 190.20,605.50 C190.98,602.57 192.65,601.13 194.10,599.00 C195.55,596.87 197.30,594.80 198.90,592.70 C200.50,590.60 202.10,588.25 203.70,586.40 C205.30,584.55 207.05,583.20 208.50,581.60 C209.95,580.00 211.35,579.45 212.40,576.80 C213.45,574.15 214.00,569.42 214.80,565.70 C215.60,561.98 216.53,557.42 217.20,554.50 C217.87,551.58 218.17,549.48 218.80,548.20 C219.43,546.92 220.20,546.00 221.00,546.80 C221.80,547.60 222.90,550.65 223.60,553.00 C224.30,555.35 224.55,556.93 225.20,560.90 C225.85,564.87 226.72,571.50 227.50,576.80 C228.28,582.10 229.23,587.40 229.90,592.70 C230.57,598.00 230.83,603.30 231.50,608.60 C232.17,613.90 232.97,619.20 233.90,624.50 C234.83,629.80 236.17,635.73 237.10,640.40 C238.03,645.07 239.10,650.48 239.50,652.50" fill="none" stroke="#000" stroke-width="1.3" stroke-dasharray="2.6,1.2"/>
<path d="M323.20,652.00 C323.60,649.02 324.80,640.80 325.60,634.10 C326.40,627.40 327.22,618.70 328.00,611.80 C328.78,604.90 329.57,599.07 330.30,592.70 C331.03,586.33 331.78,579.43 332.40,573.60 C333.02,567.77 333.50,561.72 334.00,557.70 C334.50,553.68 335.07,551.05 335.40,549.50 C335.73,547.95 335.70,547.57 336.00,548.40 C336.30,549.23 336.82,551.08 337.20,554.50 C337.58,557.92 337.85,562.53 338.30,568.90 C338.75,575.27 339.30,585.55 339.90,592.70 C340.50,599.85 341.23,606.50 341.90,611.80 C342.57,617.10 343.18,621.32 343.90,624.50 C344.62,627.68 345.55,629.62 346.20,630.90 C346.85,632.18 347.00,632.73 347.80,632.20 C348.60,631.67 349.93,629.25 351.00,627.70 C352.07,626.15 353.00,624.48 354.20,622.90 C355.40,621.32 356.88,619.38 358.20,618.20 C359.52,617.02 361.08,616.83 362.10,615.80 C363.12,614.77 363.77,613.30 364.30,612.00 C364.83,610.70 364.97,608.00 365.30,608.00 C365.63,608.00 365.63,610.70 366.30,612.00 C366.97,613.30 368.27,614.50 369.30,615.80 C370.33,617.10 371.43,617.82 372.50,619.80 C373.57,621.78 374.52,624.80 375.70,627.70 C376.88,630.60 378.38,634.55 379.60,637.20 C380.82,639.85 381.85,641.87 383.00,643.60 C384.15,645.33 385.42,646.40 386.50,647.60 C387.58,648.80 388.58,650.07 389.50,650.80 C390.42,651.53 391.58,651.80 392.00,652.00 Z" fill="#bbbbbb" stroke="none" stroke-width="1"/>
<path d="M354.20,622.90 C354.87,622.12 356.88,619.38 358.20,618.20 C359.52,617.02 361.08,616.83 362.10,615.80 C363.12,614.77 363.77,613.30 364.30,612.00 C364.83,610.70 364.97,608.00 365.30,608.00 C365.63,608.00 365.63,610.70 366.30,612.00 C366.97,613.30 368.27,614.50 369.30,615.80 C370.33,617.10 371.43,617.82 372.50,619.80 C373.57,621.78 374.52,624.80 375.70,627.70 C376.88,630.60 378.38,634.55 379.60,637.20 C380.82,639.85 381.85,641.87 383.00,643.60 C384.15,645.33 385.42,646.40 386.50,647.60 C387.58,648.80 388.58,650.07 389.50,650.80 C390.42,651.53 391.58,651.80 392.00,652.00" fill="none" stroke="#555" stroke-width="0.6" stroke-dasharray="1,1"/>
<path d="M322.90,652.00 C323.25,649.00 324.28,640.70 325.00,634.00 C325.72,627.30 326.45,619.22 327.20,611.80 C327.95,604.38 328.58,597.45 329.50,589.50 C330.42,581.55 331.77,570.85 332.70,564.10 C333.63,557.35 334.58,551.68 335.10,549.00 C335.62,546.32 335.40,546.55 335.80,548.00 C336.20,549.45 336.95,554.22 337.50,557.70 C338.05,561.18 338.62,563.52 339.10,568.90 C339.58,574.28 339.93,582.85 340.40,590.00 C340.87,597.15 341.32,606.05 341.90,611.80 C342.48,617.55 343.18,621.32 343.90,624.50 C344.62,627.68 345.82,629.83 346.20,630.90" fill="none" stroke="#000" stroke-width="1.3" stroke-dasharray="2.6,1.2"/>
<path d="M342.30,581.60 C342.67,579.67 343.72,572.78 344.50,570.00 C345.28,567.22 346.25,564.23 347.00,564.90 C347.75,565.57 348.33,570.42 349.00,574.00 C349.67,577.58 350.40,581.95 351.00,586.40 C351.60,590.85 352.07,596.20 352.60,600.70 C353.13,605.20 353.40,609.43 354.20,613.40 C355.00,617.37 356.33,621.32 357.40,624.50 C358.47,627.68 359.55,629.85 360.60,632.50 C361.65,635.15 362.52,638.02 363.70,640.40 C364.88,642.78 365.98,645.12 367.70,646.80 C369.42,648.48 371.95,649.75 374.00,650.50 C376.05,651.25 379.00,651.17 380.00,651.30" fill="none" stroke="#555" stroke-width="0.8" stroke-dasharray="1.2,1.3"/>
<rect x="50.80" y="546.00" width="113.40" height="108.00" fill="none" stroke="#444" stroke-width="1"/>
<rect x="183.80" y="546.70" width="112.80" height="106.40" fill="none" stroke="#444" stroke-width="1"/>
<rect x="321.50" y="547.60" width="107.90" height="104.70" fill="none" stroke="#444" stroke-width="1"/>
<line x1="48" y1="558.75" x2="50.8" y2="558.75" stroke="#444" stroke-width="1"/>
<line x1="48" y1="586.75" x2="50.8" y2="586.75" stroke="#444" stroke-width="1"/>
<line x1="48" y1="614" x2="50.8" y2="614" stroke="#444" stroke-width="1"/>
<line x1="48" y1="641.25" x2="50.8" y2="641.25" stroke="#444" stroke-width="1"/>
<line x1="180.5" y1="560.7" x2="183.8" y2="560.7" stroke="#444" stroke-width="1"/>
<line x1="180.5" y1="573.8" x2="183.8" y2="573.8" stroke="#444" stroke-width="1"/>
<line x1="180.5" y1="640" x2="183.8" y2="640" stroke="#444" stroke-width="1"/>
<line x1="318.5" y1="600" x2="321.5" y2="600" stroke="#444" stroke-width="1"/>
<line x1="318.5" y1="613.75" x2="321.5" y2="613.75" stroke="#444" stroke-width="1"/>
<line x1="76.25" y1="654" x2="76.25" y2="656.5" stroke="#444" stroke-width="1"/>
<line x1="135.4" y1="654" x2="135.4" y2="656.5" stroke="#444" stroke-width="1"/>
<line x1="82.5" y1="590" x2="82.5" y2="608" stroke="#000" stroke-width="2.8"/>
<line x1="82.5" y1="599.2" x2="164.3" y2="599.2" stroke="#000" stroke-width="3.2"/>
<line x1="232.3" y1="592.5" x2="232.3" y2="610" stroke="#000" stroke-width="2.8"/>
<line x1="232.3" y1="601.3" x2="296.6" y2="601.3" stroke="#000" stroke-width="3.2"/>
<line x1="354" y1="604.6" x2="354" y2="622.9" stroke="#000" stroke-width="2.8"/>
<line x1="354" y1="614.2" x2="431.5" y2="614.2" stroke="#000" stroke-width="3.2"/>
<text x="126.41" y="559.90" font-size="12.46" font-weight="bold" font-style="normal" textLength="36.24" lengthAdjust="spacingAndGlyphs" fill="#000" stroke="#000" stroke-width="0.35">14.2%</text>
<text x="266.94" y="561.90" font-size="13.07" font-weight="bold" font-style="normal" textLength="19.12" lengthAdjust="spacingAndGlyphs" fill="#000" stroke="#000" stroke-width="0.35">7%</text>
<text x="391.76" y="562.20" font-size="12.89" font-weight="bold" font-style="normal" textLength="37.00" lengthAdjust="spacingAndGlyphs" fill="#000" stroke="#000" stroke-width="0.35">26.8%</text>
<text x="125.64" y="645.90" font-size="15.90" font-weight="bold" font-style="normal" textLength="31.29" lengthAdjust="spacingAndGlyphs" fill="#000" stroke="#000" stroke-width="0.35">OC1</text>
<text x="258.02" y="645.90" font-size="15.19" font-weight="bold" font-style="normal" textLength="32.52" lengthAdjust="spacingAndGlyphs" fill="#000" stroke="#000" stroke-width="0.35">OC2</text>
<text x="396.67" y="645.80" font-size="16.62" font-weight="bold" font-style="normal" textLength="32.30" lengthAdjust="spacingAndGlyphs" fill="#000" stroke="#000" stroke-width="0.35">OC3</text>
</svg>
</body></html>
